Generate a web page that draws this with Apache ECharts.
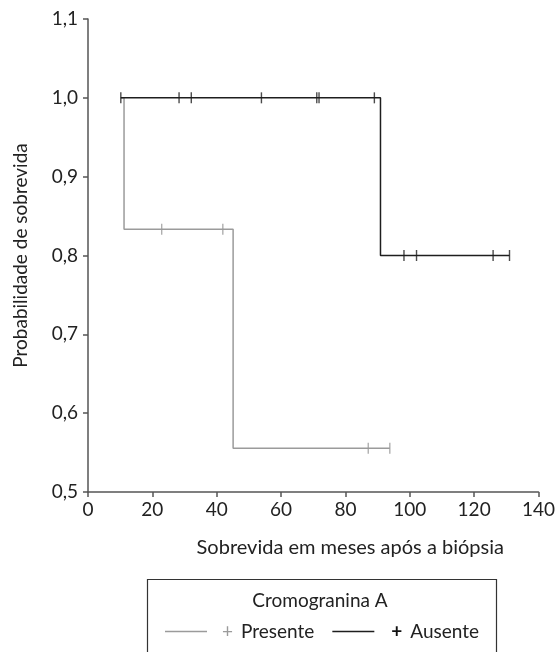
<!DOCTYPE html>
<html>
<head>
<meta charset="utf-8">
<script src="https://cdn.jsdelivr.net/npm/echarts@6/dist/echarts.min.js"></script>
<style>
html,body{margin:0;padding:0;background:#fff;}
#chart{width:558px;height:652px;}
</style>
</head>
<body>
<div id="chart"></div>
<script>
// Kaplan-Meier steps: [month, survival]
var ausenteSteps = [[10.2, 1.0], [90.9, 0.8], [131.0, 0.8]];
var presenteSteps = [[10.2, 1.0], [11.2, 0.8333], [45.1, 0.5556], [93.8, 0.5556]];
// censored observations
var ausenteCensored = [[10.2, 1.0], [28.3, 1.0], [32.1, 1.0], [53.9, 1.0], [71.1, 1.0], [71.8, 1.0], [89.0, 1.0],
                       [98.2, 0.8], [102.1, 0.8], [125.9, 0.8], [131.0, 0.8]];
var presenteCensored = [[22.9, 0.8333], [41.9, 0.8333], [87.1, 0.5556], [93.8, 0.5556]];
var xTicks = [0, 140, 20];
var yTicks = [0.5, 1.1, 0.1];
var legendTitle = 'Cromogranina A';
var xName = 'Sobrevida em meses após a biópsia';
var yName = 'Probabilidade de sobrevida';

var FONT = 'Lato';
var FS = 19;
var GRAY = '#9b9b9b';
var BLACK = '#1e1e1e';
var AXIS = '#555555';

var chart = echarts.init(document.getElementById('chart'), null, {renderer: 'canvas'});
chart.setOption({
  animation: false,
  backgroundColor: '#fff',
  textStyle: {fontFamily: FONT},
  grid: {left: 88, right: 17, top: 19, bottom: 160, containLabel: false},
  xAxis: {
    type: 'value', min: xTicks[0], max: xTicks[1], interval: xTicks[2],
    name: xName, nameLocation: 'middle', nameGap: 46,
    nameTextStyle: {fontFamily: FONT, fontSize: 20, color: '#222', padding: [0, 0, 0, 74]},
    axisLine: {show: true, lineStyle: {color: AXIS, width: 1.5}},
    axisTick: {show: true, length: 5, lineStyle: {color: AXIS, width: 1.5}},
    axisLabel: {fontFamily: FONT, fontSize: FS, color: '#222', margin: 8},
    splitLine: {show: false}
  },
  yAxis: {
    type: 'value', min: yTicks[0], max: yTicks[1], interval: yTicks[2],
    name: yName, nameLocation: 'middle', nameGap: 58,
    nameTextStyle: {fontFamily: FONT, fontSize: FS, color: '#222'},
    axisLine: {show: true, lineStyle: {color: AXIS, width: 1.5}},
    axisTick: {show: true, length: 5, lineStyle: {color: AXIS, width: 1.5}},
    axisLabel: {fontFamily: FONT, fontSize: FS, color: '#222', margin: 10,
      formatter: function (v) { return v.toFixed(1).replace('.', ','); }},
    splitLine: {show: false}
  },
  legend: {
    left: 165, top: 622, padding: 0, itemWidth: 42, itemHeight: 1.5, itemGap: 18, icon: 'rect',
    data: ['Presente', 'Ausente'],
    formatter: function (n) { return n === 'Presente' ? '{pg|+}{t|Presente}' : '{pb|+}{t|Ausente}'; },
    textStyle: {fontFamily: FONT, fontSize: FS, color: '#222',
      rich: {pg: {color: GRAY, fontSize: FS, fontFamily: FONT, padding: [0, 0, 0, 10]},
             pb: {color: '#111', fontSize: FS, fontWeight: 'bold', fontFamily: FONT, padding: [0, 0, 0, 12]},
             t: {color: '#222', fontSize: FS, fontFamily: FONT, padding: [0, 0, 0, 8]}}}
  },
  graphic: [
    {type: 'rect', left: 145, top: 577, shape: {width: 349, height: 90},
     style: {fill: 'none', stroke: '#333', lineWidth: 1.2}},
    {type: 'text', x: 320, y: 591, style: {text: legendTitle, font: FS + 'px Lato', fill: '#222', align: 'center', verticalAlign: 'top'}}
  ],
  series: [
    {name: 'Presente', type: 'line', step: 'end', data: presenteSteps, showSymbol: false, symbol: 'none',
     lineStyle: {color: GRAY, width: 1.5}, itemStyle: {color: GRAY}, z: 2},
    {name: 'Ausente', type: 'line', step: 'end', data: ausenteSteps, showSymbol: false, symbol: 'none',
     lineStyle: {color: BLACK, width: 1.5}, itemStyle: {color: BLACK}, z: 3},
    {name: 'PresenteCens', type: 'scatter', data: presenteCensored, symbol: 'rect', symbolSize: [1.4, 11],
     itemStyle: {color: GRAY}, z: 4},
    {name: 'AusenteCens', type: 'scatter', data: ausenteCensored, symbol: 'rect', symbolSize: [1.4, 11],
     itemStyle: {color: BLACK}, z: 5}
  ]
});
</script>
</body>
</html>
